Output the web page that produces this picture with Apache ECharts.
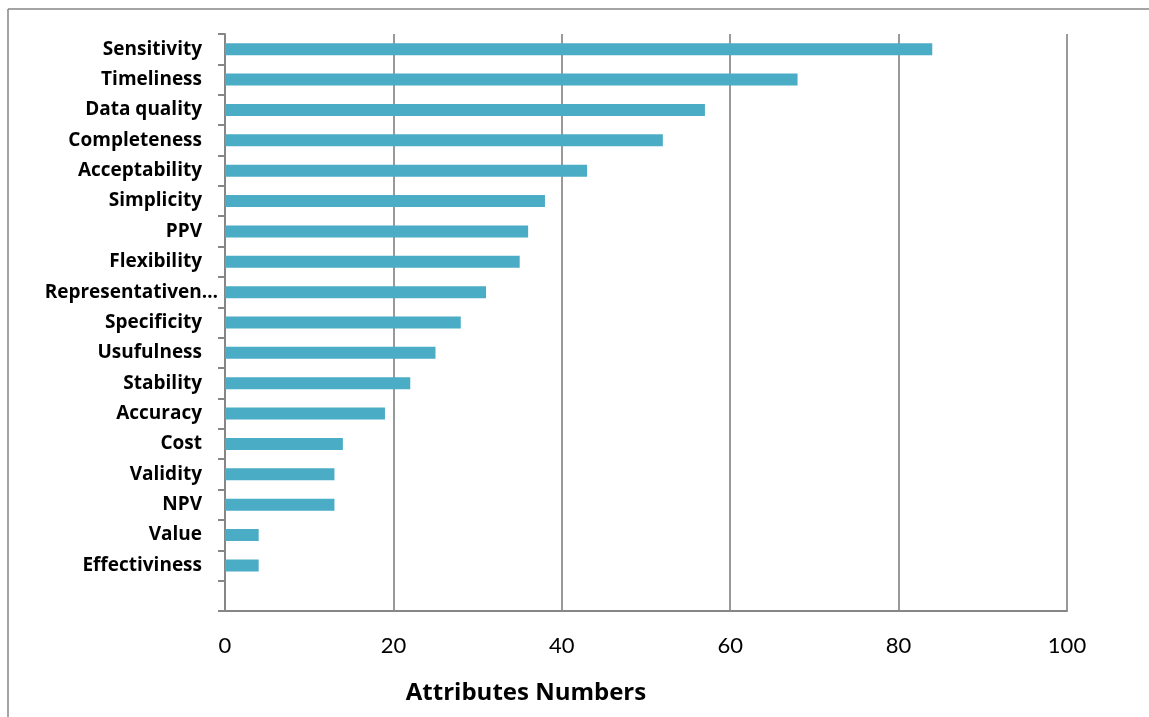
<!DOCTYPE html>
<html>
<head>
<meta charset="utf-8">
<script src="https://cdn.jsdelivr.net/npm/echarts@6/dist/echarts.min.js"></script>
<style>html,body{margin:0;padding:0;background:#fff}#c{width:1149px;height:717px}</style>
</head>
<body>
<div id="c"></div>
<script>
const categories = ['Sensitivity','Timeliness','Data quality','Completeness','Acceptability','Simplicity','PPV','Flexibility','Representativeness','Specificity','Usufulness','Stability','Accuracy','Cost','Validity','NPV','Value','Effectiviness',''];
const values = [84,68,57,52,43,38,36,35,31,28,25,22,19,14,13,13,4,4,null];
const xTicks = {min:0, max:100, interval:20};
const axisTitle = 'Attributes Numbers';

const chart = echarts.init(document.getElementById('c'), null, {renderer:'canvas'});
chart.setOption({
  animation:false,
  backgroundColor:'#fff',
  title:{text:axisTitle, left:521, top:676, textAlign:'center',
    textStyle:{fontFamily:'Open Sans', fontWeight:'bold', fontSize:24, color:'#000'}},
  graphic:[
    {type:'line', shape:{x1:8,y1:9,x2:1149,y2:9}, style:{stroke:'#868686', lineWidth:1.5}},
    {type:'line', shape:{x1:8,y1:9,x2:8,y2:717}, style:{stroke:'#868686', lineWidth:1.5}}
  ],
  grid:{left:225, right:82, top:34, bottom:106, containLabel:false},
  xAxis:{type:'value', min:xTicks.min, max:xTicks.max, interval:xTicks.interval,
    axisLine:{show:true, lineStyle:{color:'#868686', width:2}},
    axisTick:{show:false},
    splitLine:{show:true, lineStyle:{color:'#999', width:2}},
    axisLabel:{margin:24, fontFamily:'Lato', fontSize:22, color:'#000'}},
  yAxis:{type:'category', inverse:true, data:categories, boundaryGap:true,
    axisLine:{show:true, lineStyle:{color:'#868686', width:2}},
    axisTick:{show:true, length:7, lineStyle:{color:'#868686', width:2}},
    axisLabel:{margin:7, interval:0,
      formatter:function(v){ if(v.length>15) return '{t|'+v.slice(0,15)+'…}'; return '{n|'+v+'}'; },
      rich:{
        n:{fontFamily:'Open Sans', fontWeight:'bold', fontSize:19, color:'#000', padding:[0,16,0,0]},
        t:{fontFamily:'Open Sans', fontWeight:'bold', fontSize:19, color:'#000'}
      }}},
  series:[{type:'bar', data:values, barWidth:12, itemStyle:{color:'#4BACC6'}}]
});
</script>
</body>
</html>
